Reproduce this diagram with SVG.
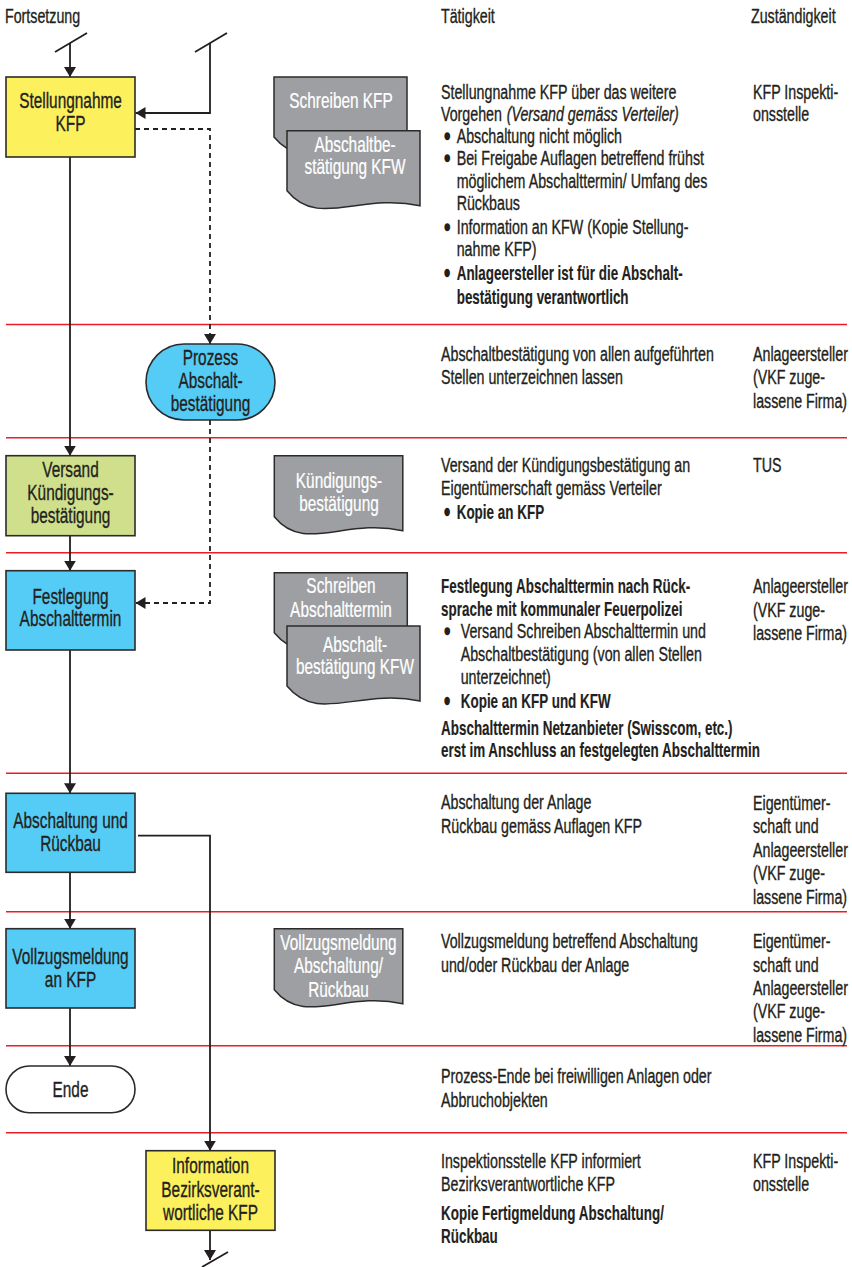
<svg xmlns="http://www.w3.org/2000/svg" width="852" height="1267" viewBox="0 0 852 1267">
<style>
.t{font-family:"Liberation Sans",Arial,sans-serif;font-size:19.5px;fill:#231f20;stroke:#231f20;stroke-width:0.35}
.bd{font-weight:bold;stroke-width:0.15}
.n{font-family:"Liberation Sans",Arial,sans-serif;font-size:22px;fill:#231f20;stroke:#231f20;stroke-width:0.35;text-anchor:middle}
.dt{font-family:"Liberation Sans",Arial,sans-serif;font-size:22px;fill:#ffffff;stroke:#ffffff;stroke-width:0.25;text-anchor:middle}
.bul{stroke-width:2.6;stroke-linejoin:round}
.c{fill:none;stroke:#231f20;stroke-width:1.8}
.dash{stroke-dasharray:5 4}
.red{stroke:#ec1c24;stroke-width:1.4}
.box{stroke:#2b2b2b;stroke-width:1.6}
.yel{fill:#fcf05c}
.grn{fill:#cfdf8b}
.blu{fill:#55ccf5}
.wht{fill:#ffffff}
.doc{fill:#9d9fa2;stroke:#2b2b2b;stroke-width:1.5}
</style>
<defs>
<marker id="ah" viewBox="0 0 10 12" refX="10" refY="6" markerWidth="10" markerHeight="12" markerUnits="userSpaceOnUse" orient="auto"><path d="M0,0 L10,6 L0,12 Z" fill="#231f20"/></marker>
<path id="docW" d="M0,0 H133 V75 C72,62 31,98 0,60 Z"/>
<path id="docN" d="M0,0 H128.5 V75 C70,62 30,98 0,61 Z"/>
</defs>
<rect width="852" height="1267" fill="#ffffff"/>

<g id="headers">
<text class="t" transform="translate(5,22.5) scale(0.73,1)">Fortsetzung</text>
<text class="t" transform="translate(441,22.5) scale(0.73,1)">Tätigkeit</text>
<text class="t" transform="translate(751,22.5) scale(0.73,1)">Zuständigkeit</text>
</g>

<g id="separators">
<line class="red" x1="6" y1="324.5" x2="847" y2="324.5"/>
<line class="red" x1="6" y1="437.7" x2="847" y2="437.7"/>
<line class="red" x1="6" y1="552.7" x2="847" y2="552.7"/>
<line class="red" x1="6" y1="773.3" x2="847" y2="773.3"/>
<line class="red" x1="6" y1="911.7" x2="847" y2="911.7"/>
<line class="red" x1="6" y1="1045.7" x2="847" y2="1045.7"/>
<line class="red" x1="6" y1="1132.7" x2="847" y2="1132.7"/>
</g>

<g id="connectors">
<line class="c" x1="55" y1="52" x2="87" y2="33"/>
<path class="c" d="M70,43 V77" marker-end="url(#ah)"/>
<line class="c" x1="195" y1="52" x2="227" y2="33"/>
<path class="c" d="M210,43 V113 H135.5" marker-end="url(#ah)"/>
<path class="c dash" d="M135,129 H210 V344" marker-end="url(#ah)"/>
<path class="c" d="M70,157 V455.7" marker-end="url(#ah)"/>
<path class="c dash" d="M210,420 V603 H135.5" marker-end="url(#ah)"/>
<path class="c" d="M70,536 V570.7" marker-end="url(#ah)"/>
<path class="c" d="M70,650 V793.3" marker-end="url(#ah)"/>
<path class="c" d="M70,872.3 V928.7" marker-end="url(#ah)"/>
<path class="c" d="M70,1008 V1066" marker-end="url(#ah)"/>
<path class="c" d="M138,835.7 H210 V1150.7" marker-end="url(#ah)"/>
<path class="c" d="M210,1230.3 V1260" marker-end="url(#ah)"/>
<line class="c" x1="202" y1="1267" x2="228" y2="1252"/>
</g>

<g id="n-stellungnahme">
<rect class="box yel" x="6" y="77" width="129" height="80"/>
<text class="n" transform="translate(70.5,0) scale(0.70,1)"><tspan x="0" y="108.3">Stellungnahme</tspan><tspan x="0" y="131">KFP</tspan></text>
</g>

<g id="doc-schreiben-kfp">
<use href="#docW" class="doc" x="274" y="77"/>
<text class="dt" transform="translate(341,0) scale(0.70,1)"><tspan x="0" y="108.3">Schreiben KFP</tspan></text>
</g>
<g id="doc-abschaltbestaetigung-1">
<use href="#docW" class="doc" x="287" y="130.7"/>
<text class="dt" transform="translate(355,0) scale(0.70,1)"><tspan x="0" y="151.7">Abschaltbe-</tspan><tspan x="0" y="174.3">stätigung KFW</tspan></text>
</g>

<g id="n-prozess">
<rect class="box blu" x="146" y="344" width="129" height="76" rx="38" ry="38"/>
<text class="n" transform="translate(210.5,0) scale(0.70,1)"><tspan x="0" y="365">Prozess</tspan><tspan x="0" y="388.3">Abschalt-</tspan><tspan x="0" y="411.3">bestätigung</tspan></text>
</g>

<g id="n-versand">
<rect class="box grn" x="6" y="455.7" width="129" height="80"/>
<text class="n" transform="translate(70.5,0) scale(0.70,1)"><tspan x="0" y="477">Versand</tspan><tspan x="0" y="500">Kündigungs-</tspan><tspan x="0" y="523">bestätigung</tspan></text>
</g>

<g id="doc-kuendigung">
<use href="#docN" class="doc" x="274.3" y="455.7"/>
<text class="dt" transform="translate(339,0) scale(0.70,1)"><tspan x="0" y="488.3">Kündigungs-</tspan><tspan x="0" y="510.7">bestätigung</tspan></text>
</g>

<g id="n-festlegung">
<rect class="box blu" x="6" y="570.7" width="129" height="79.3"/>
<text class="n" transform="translate(70.5,0) scale(0.70,1)"><tspan x="0" y="604">Festlegung</tspan><tspan x="0" y="626.3">Abschalttermin</tspan></text>
</g>

<g id="doc-schreiben-termin">
<use href="#docW" class="doc" x="274.3" y="572.7"/>
<text class="dt" transform="translate(341,0) scale(0.70,1)"><tspan x="0" y="593.3">Schreiben</tspan><tspan x="0" y="616.7">Abschalttermin</tspan></text>
</g>
<g id="doc-abschaltbestaetigung-2">
<use href="#docW" class="doc" x="287" y="626"/>
<text class="dt" transform="translate(355,0) scale(0.70,1)"><tspan x="0" y="652.3">Abschalt-</tspan><tspan x="0" y="674.3">bestätigung KFW</tspan></text>
</g>

<g id="n-abschaltung">
<rect class="box blu" x="6" y="793.3" width="129" height="79"/>
<text class="n" transform="translate(70.5,0) scale(0.70,1)"><tspan x="0" y="828.3">Abschaltung und</tspan><tspan x="0" y="850.7">Rückbau</tspan></text>
</g>

<g id="n-vollzug">
<rect class="box blu" x="6" y="928.7" width="129" height="79.3"/>
<text class="n" transform="translate(70.5,0) scale(0.70,1)"><tspan x="0" y="964">Vollzugsmeldung</tspan><tspan x="0" y="986.7">an KFP</tspan></text>
</g>

<g id="doc-vollzug">
<use href="#docN" class="doc" x="274.3" y="928.7"/>
<text class="dt" transform="translate(338.5,0) scale(0.70,1)"><tspan x="0" y="950">Vollzugsmeldung</tspan><tspan x="0" y="973.3">Abschaltung/</tspan><tspan x="0" y="996.7">Rückbau</tspan></text>
</g>

<g id="n-ende">
<rect class="box wht" x="6" y="1066" width="129" height="46.7" rx="23.3" ry="23.3"/>
<text class="n" transform="translate(70.5,0) scale(0.70,1)"><tspan x="0" y="1097">Ende</tspan></text>
</g>

<g id="n-information">
<rect class="box yel" x="146" y="1150.7" width="129" height="79.6"/>
<text class="n" transform="translate(210.5,0) scale(0.70,1)"><tspan x="0" y="1173.3">Information</tspan><tspan x="0" y="1196.7">Bezirksverant-</tspan><tspan x="0" y="1220">wortliche KFP</tspan></text>
</g>

<g id="activity-texts">
<text class="t" transform="translate(441,0) scale(0.73,1)"><tspan x="0" y="99">Stellungnahme KFP über das weitere</tspan><tspan x="0" y="121">Vorgehen</tspan><tspan x="90" y="121" font-style="italic">(Versand gemäss Verteiler)</tspan><tspan class="bul" x="5" y="143">•</tspan><tspan x="21.5" y="143">Abschaltung nicht möglich</tspan><tspan class="bul" x="5" y="165.5">•</tspan><tspan x="21.5" y="165.5">Bei Freigabe Auflagen betreffend frühst</tspan><tspan x="21.5" y="188">möglichem Abschalttermin/ Umfang des</tspan><tspan x="21.5" y="210.5">Rückbaus</tspan><tspan class="bul" x="5" y="234">•</tspan><tspan x="21.5" y="234">Information an KFW (Kopie Stellung-</tspan><tspan x="21.5" y="256.5">nahme KFP)</tspan></text>
<text class="t bd" transform="translate(441,0) scale(0.69,1)"><tspan class="bul" x="5.5" y="280.3">•</tspan><tspan x="22.7" y="280.3">Anlageersteller ist für die Abschalt-</tspan><tspan x="22.7" y="303.7">bestätigung verantwortlich</tspan></text>

<text class="t" transform="translate(441,0) scale(0.73,1)"><tspan x="0" y="360.7">Abschaltbestätigung von allen aufgeführten</tspan><tspan x="0" y="384.5">Stellen unterzeichnen lassen</tspan></text>

<text class="t" transform="translate(441,0) scale(0.73,1)"><tspan x="0" y="471.7">Versand der Kündigungsbestätigung an</tspan><tspan x="0" y="495.5">Eigentümerschaft gemäss Verteiler</tspan></text>
<text class="t bd" transform="translate(441,0) scale(0.69,1)"><tspan class="bul" x="5.5" y="519.3">•</tspan><tspan x="22.7" y="519.3">Kopie an KFP</tspan></text>

<text class="t bd" transform="translate(441,0) scale(0.69,1)"><tspan x="0" y="593.3">Festlegung Abschalttermin nach Rück-</tspan><tspan x="0" y="615.8">sprache mit kommunaler Feuerpolizei</tspan></text>
<text class="t" transform="translate(441,0) scale(0.73,1)"><tspan class="bul" x="5" y="638.3">•</tspan><tspan x="27" y="638.3">Versand Schreiben Abschalttermin und</tspan><tspan x="27" y="661.3">Abschaltbestätigung (von allen Stellen</tspan><tspan x="27" y="684">unterzeichnet)</tspan></text>
<text class="t bd" transform="translate(441,0) scale(0.69,1)"><tspan class="bul" x="5.5" y="708.3">•</tspan><tspan x="28.6" y="708.3">Kopie an KFP und KFW</tspan><tspan x="0" y="735">Abschalttermin Netzanbieter (Swisscom, etc.)</tspan><tspan x="0" y="757">erst im Anschluss an festgelegten Abschalttermin</tspan></text>

<text class="t" transform="translate(441,0) scale(0.73,1)"><tspan x="0" y="809.3">Abschaltung der Anlage</tspan><tspan x="0" y="833">Rückbau gemäss Auflagen KFP</tspan></text>

<text class="t" transform="translate(441,0) scale(0.73,1)"><tspan x="0" y="948.3">Vollzugsmeldung betreffend Abschaltung</tspan><tspan x="0" y="971.7">und/oder Rückbau der Anlage</tspan></text>

<text class="t" transform="translate(441,0) scale(0.73,1)"><tspan x="0" y="1083.3">Prozess-Ende bei freiwilligen Anlagen oder</tspan><tspan x="0" y="1106.7">Abbruchobjekten</tspan></text>

<text class="t" transform="translate(441,0) scale(0.73,1)"><tspan x="0" y="1168.3">Inspektionsstelle KFP informiert</tspan><tspan x="0" y="1190.7">Bezirksverantwortliche KFP</tspan></text>
<text class="t bd" transform="translate(441,0) scale(0.69,1)"><tspan x="0" y="1220">Kopie Fertigmeldung Abschaltung/</tspan><tspan x="0" y="1243.3">Rückbau</tspan></text>
</g>

<g id="responsibility-texts">
<text class="t" transform="translate(753,0) scale(0.73,1)"><tspan x="0" y="99">KFP Inspekti-</tspan><tspan x="0" y="121">onsstelle</tspan></text>
<text class="t" transform="translate(753,0) scale(0.73,1)"><tspan x="0" y="360.7">Anlageersteller</tspan><tspan x="0" y="384.5">(VKF zuge-</tspan><tspan x="0" y="408">lassene Firma)</tspan></text>
<text class="t" transform="translate(753,0) scale(0.73,1)"><tspan x="0" y="471.7">TUS</tspan></text>
<text class="t" transform="translate(753,0) scale(0.73,1)"><tspan x="0" y="593.3">Anlageersteller</tspan><tspan x="0" y="616.7">(VKF zuge-</tspan><tspan x="0" y="640">lassene Firma)</tspan></text>
<text class="t" transform="translate(753,0) scale(0.73,1)"><tspan x="0" y="810">Eigentümer-</tspan><tspan x="0" y="833.3">schaft und</tspan><tspan x="0" y="857">Anlageersteller</tspan><tspan x="0" y="880.5">(VKF zuge-</tspan><tspan x="0" y="904">lassene Firma)</tspan></text>
<text class="t" transform="translate(753,0) scale(0.73,1)"><tspan x="0" y="948.3">Eigentümer-</tspan><tspan x="0" y="971.7">schaft und</tspan><tspan x="0" y="995">Anlageersteller</tspan><tspan x="0" y="1018.3">(VKF zuge-</tspan><tspan x="0" y="1041.7">lassene Firma)</tspan></text>
<text class="t" transform="translate(753,0) scale(0.73,1)"><tspan x="0" y="1168.3">KFP Inspekti-</tspan><tspan x="0" y="1190.7">onsstelle</tspan></text>
</g>
</svg>
